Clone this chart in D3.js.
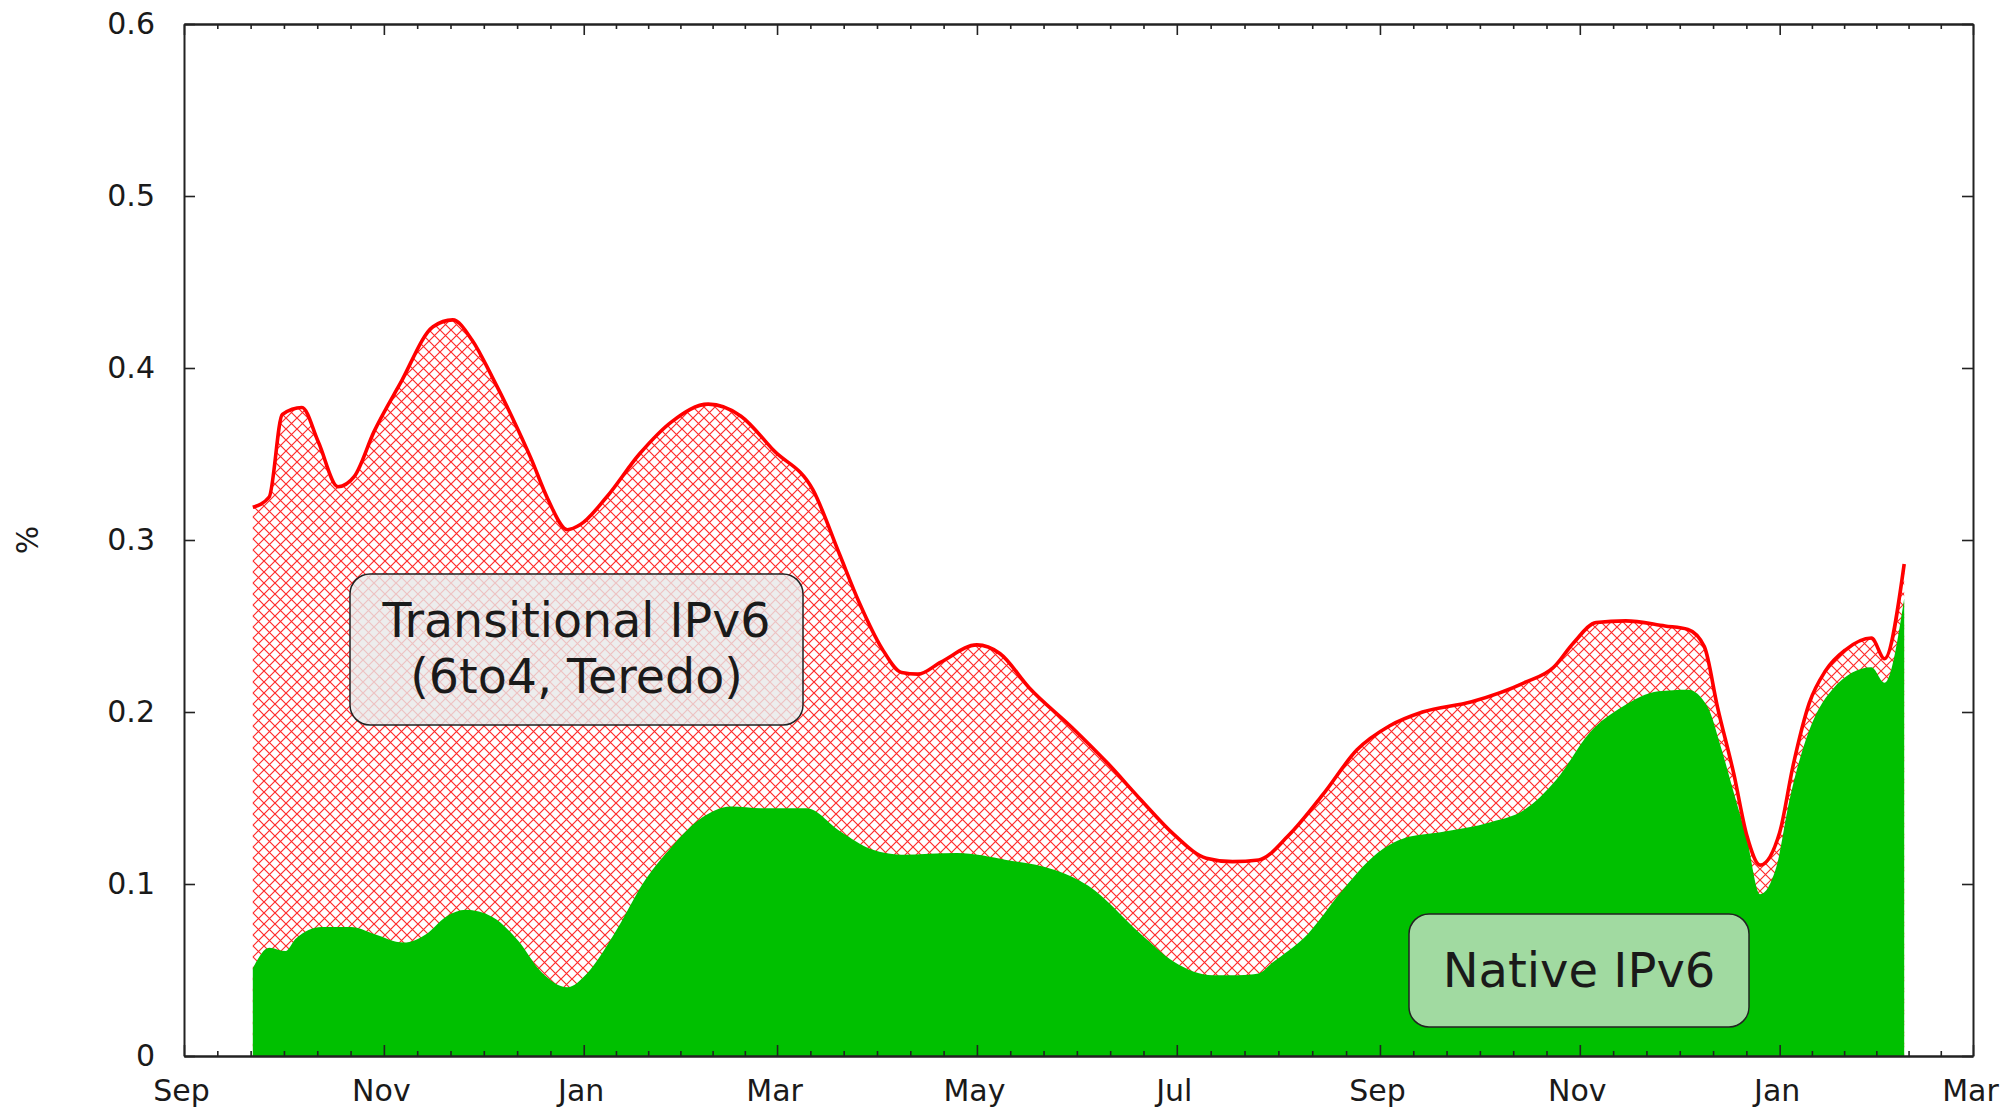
<!DOCTYPE html>
<html>
<head>
<meta charset="utf-8">
<script src="https://cdnjs.cloudflare.com/ajax/libs/d3/7.8.5/d3.min.js"></script>
<style>
    html, body { margin: 0; padding: 0; background: #ffffff; }
    svg { display: block; font-family: "DejaVu Sans", sans-serif; }
</style>
</head>
<body>
<div id="chart"></div>
<script>
// total IPv6 share (native + transitional), %
const totalDates = [
    "2008-09-22", "2008-09-27", "2008-10-01", "2008-10-07", "2008-10-12", "2008-10-18",
    "2008-10-23", "2008-10-29", "2008-11-06", "2008-11-16", "2008-11-22", "2008-11-28",
    "2008-12-04", "2008-12-10", "2008-12-16", "2008-12-21", "2008-12-27", "2008-12-31",
    "2009-01-08", "2009-01-18", "2009-01-28", "2009-02-08", "2009-02-18", "2009-02-28",
    "2009-03-12", "2009-03-20", "2009-03-26", "2009-04-02", "2009-04-08", "2009-04-13",
    "2009-04-20", "2009-05-01", "2009-05-08", "2009-05-17", "2009-05-30", "2009-06-10",
    "2009-06-20", "2009-06-30", "2009-07-10", "2009-07-18", "2009-07-26", "2009-08-04",
    "2009-08-15", "2009-08-25", "2009-09-04", "2009-09-14", "2009-09-29", "2009-10-15",
    "2009-10-24", "2009-10-30", "2009-11-06", "2009-11-15", "2009-11-27", "2009-12-04",
    "2009-12-09", "2009-12-13", "2009-12-18", "2009-12-22", "2009-12-26", "2010-01-01",
    "2010-01-05", "2010-01-10", "2010-01-15", "2010-01-21", "2010-01-29", "2010-02-02",
    "2010-02-08"
];
const totalValues = [
    0.319, 0.325, 0.373, 0.377, 0.357, 0.331,
    0.337, 0.363, 0.391, 0.424, 0.428, 0.416,
    0.395, 0.372, 0.347, 0.324, 0.306, 0.309,
    0.325, 0.350, 0.369, 0.379, 0.372, 0.352,
    0.329, 0.292, 0.264, 0.237, 0.223, 0.222,
    0.229, 0.239, 0.234, 0.214, 0.191, 0.170,
    0.149, 0.129, 0.115, 0.113, 0.114, 0.128,
    0.153, 0.178, 0.192, 0.200, 0.206, 0.217,
    0.226, 0.240, 0.252, 0.253, 0.250, 0.248,
    0.238, 0.203, 0.164, 0.128, 0.111, 0.130,
    0.168, 0.205, 0.224, 0.236, 0.243, 0.231,
    0.286
];

// native IPv6 share, %
const nativeDates = [
    "2008-09-22", "2008-09-27", "2008-10-02", "2008-10-05", "2008-10-13", "2008-10-22",
    "2008-10-29", "2008-11-07", "2008-11-14", "2008-11-20", "2008-11-26", "2008-12-04",
    "2008-12-12", "2008-12-19", "2008-12-27", "2009-01-02", "2009-01-10", "2009-01-20",
    "2009-01-28", "2009-02-05", "2009-02-15", "2009-02-24", "2009-03-10", "2009-03-20",
    "2009-03-30", "2009-04-08", "2009-04-25", "2009-05-10", "2009-05-25", "2009-06-04",
    "2009-06-20", "2009-06-30", "2009-07-12", "2009-07-20", "2009-07-26", "2009-07-30",
    "2009-08-10", "2009-08-20", "2009-08-30", "2009-09-09", "2009-09-19", "2009-10-05",
    "2009-10-15", "2009-10-25", "2009-11-04", "2009-11-14", "2009-11-25", "2009-12-04",
    "2009-12-10", "2009-12-14", "2009-12-18", "2009-12-22", "2009-12-26", "2009-12-31",
    "2010-01-04", "2010-01-09", "2010-01-17", "2010-01-29", "2010-02-02", "2010-02-08"
];
const nativeValues = [
    0.051, 0.063, 0.061, 0.068, 0.075, 0.075,
    0.071, 0.066, 0.071, 0.081, 0.085, 0.081,
    0.067, 0.049, 0.040, 0.048, 0.070, 0.103,
    0.122, 0.137, 0.145, 0.144, 0.144, 0.131,
    0.120, 0.117, 0.118, 0.114, 0.108, 0.099,
    0.071, 0.055, 0.047, 0.047, 0.048, 0.054,
    0.071, 0.095, 0.116, 0.127, 0.130, 0.136,
    0.143, 0.161, 0.188, 0.203, 0.212, 0.213,
    0.203, 0.180, 0.153, 0.126, 0.094, 0.110,
    0.149, 0.184, 0.213, 0.226, 0.217, 0.266
];

const xTickDates = [
    "2008-09-01", "2008-11-01", "2009-01-01", "2009-03-01", "2009-05-01",
    "2009-07-01", "2009-09-01", "2009-11-01", "2010-01-01", "2010-03-01"
];
const yTickValues = [0, 0.1, 0.2, 0.3, 0.4, 0.5, 0.6];
const yAxisLabel = "%";
const transitionalLabel = ["Transitional IPv6", "(6to4, Teredo)"];
const nativeLabel = ["Native IPv6"];

const SETTINGS = {
    width: 2014,
    height: 1110,
    margins: {top: 24, right: 41, bottom: 54, left: 184},
    fontSize: 30,
    textColor: "#1a1a1a",
    frameColor: "#222222",
    totalColor: "#ff0000",
    nativeColor: "#00c000",
    minorPerMajor: 6
};

const parseDate = d3.timeParse("%Y-%m-%d");

function makeSeries(dates, values){
    return dates.map((d, i) => ({date: parseDate(d), value: values[i]}));
}

const totalData = makeSeries(totalDates, totalValues);
const nativeData = makeSeries(nativeDates, nativeValues);
const majorTicks = xTickDates.map(parseDate);

//minor ticks split each pair of major ticks evenly
const minorTicks = [];
for(let i = 0; i < majorTicks.length - 1; i++){
    const t0 = +majorTicks[i], t1 = +majorTicks[i + 1];
    for(let k = 1; k < SETTINGS.minorPerMajor; k++){
        minorTicks.push(new Date(t0 + (t1 - t0) * k / SETTINGS.minorPerMajor));
    }
}

const m = SETTINGS.margins;
const innerW = SETTINGS.width - m.left - m.right;
const innerH = SETTINGS.height - m.top - m.bottom;

const svg = d3.select("#chart").append("svg")
    .attr("width", SETTINGS.width)
    .attr("height", SETTINGS.height);

const x = d3.scaleTime()
    .domain([majorTicks[0], majorTicks[majorTicks.length - 1]])
    .range([m.left, m.left + innerW]);

const y = d3.scaleLinear()
    .domain([0, 0.6])
    .range([m.top + innerH, m.top]);

// crosshatch for the transitional band
const defs = svg.append("defs");
defs.append("pattern")
    .attr("id", "hatch")
    .attr("patternUnits", "userSpaceOnUse")
    .attr("width", 11)
    .attr("height", 11)
  .append("path")
    .attr("d", "M-1,-1L12,12M12,-1L-1,12")
    .attr("stroke", "#ff2a2a")
    .attr("stroke-width", 1.2)
    .attr("fill", "none");

const area = d3.area()
    .curve(d3.curveMonotoneX)
    .x(d => x(d.date))
    .y0(y(0))
    .y1(d => y(d.value));

const line = d3.line()
    .curve(d3.curveMonotoneX)
    .x(d => x(d.date))
    .y(d => y(d.value));

svg.append("path")
    .datum(totalData)
    .attr("d", area)
    .attr("fill", "url(#hatch)");

svg.append("path")
    .datum(nativeData)
    .attr("d", area)
    .attr("fill", SETTINGS.nativeColor);

svg.append("path")
    .datum(totalData)
    .attr("d", line)
    .attr("fill", "none")
    .attr("stroke", SETTINGS.totalColor)
    .attr("stroke-width", 3.6)
    .attr("stroke-linejoin", "round");

/* label boxes */
function drawLabelBox(lines, box){
    const g = svg.append("g");
    g.append("rect")
        .attr("x", box.x)
        .attr("y", box.y)
        .attr("width", box.w)
        .attr("height", box.h)
        .attr("rx", 20)
        .attr("ry", 20)
        .attr("fill", box.fill)
        .attr("fill-opacity", box.opacity)
        .attr("stroke", "#222222")
        .attr("stroke-width", 1.5);
    g.selectAll("text")
        .data(lines)
        .join("text")
        .attr("x", box.x + box.w / 2)
        .attr("y", (d, i) => box.baseline + i * box.lineGap)
        .attr("text-anchor", "middle")
        .attr("font-size", box.fontSize)
        .attr("fill", SETTINGS.textColor)
        .text(d => d);
}

drawLabelBox(transitionalLabel, {x: 350, y: 574, w: 453, h: 151, fill: "#e9e9e9", opacity: 0.8,
    baseline: 637, lineGap: 56, fontSize: 47.5});
drawLabelBox(nativeLabel, {x: 1409, y: 914, w: 340, h: 113, fill: "#a1daa1", opacity: 1,
    baseline: 987, lineGap: 0, fontSize: 48});

/* axes */
function styleAxis(g){
    g.selectAll(".domain").attr("stroke", SETTINGS.frameColor).attr("stroke-width", 2);
    g.selectAll(".tick line").attr("stroke", SETTINGS.frameColor).attr("stroke-width", 1.6);
    g.selectAll(".tick text")
        .attr("fill", SETTINGS.textColor)
        .attr("font-size", SETTINGS.fontSize)
        .attr("font-family", "DejaVu Sans, sans-serif");
}

const monthFmt = d3.timeFormat("%b");
const yFmt = d => d === 0 ? "0" : d.toFixed(1);

// bottom
svg.append("g")
    .attr("transform", `translate(0,${m.top + innerH})`)
    .call(d3.axisBottom(x).tickValues(minorTicks).tickSizeInner(-5).tickSizeOuter(0).tickFormat(""))
    .call(styleAxis);
svg.append("g")
    .attr("transform", `translate(0,${m.top + innerH})`)
    .call(d3.axisBottom(x).tickValues(majorTicks).tickSizeInner(-11).tickSizeOuter(0)
        .tickPadding(24).tickFormat(monthFmt))
    .call(styleAxis)
    .selectAll(".tick text")
    .attr("dx", -3);

// top
svg.append("g")
    .attr("transform", `translate(0,${m.top})`)
    .call(d3.axisTop(x).tickValues(minorTicks).tickSizeInner(-5).tickSizeOuter(0).tickFormat(""))
    .call(styleAxis);
svg.append("g")
    .attr("transform", `translate(0,${m.top})`)
    .call(d3.axisTop(x).tickValues(majorTicks).tickSizeInner(-11).tickSizeOuter(0).tickFormat(""))
    .call(styleAxis);

// left
svg.append("g")
    .attr("transform", `translate(${m.left},0)`)
    .call(d3.axisLeft(y).tickValues(yTickValues).tickSizeInner(-11).tickSizeOuter(0)
        .tickPadding(29).tickFormat(yFmt))
    .call(styleAxis);

// right
svg.append("g")
    .attr("transform", `translate(${m.left + innerW},0)`)
    .call(d3.axisRight(y).tickValues(yTickValues).tickSizeInner(-11).tickSizeOuter(0).tickFormat(""))
    .call(styleAxis);

svg.append("text")
    .attr("transform", `translate(27,${m.top + innerH / 2}) rotate(-90)`)
    .attr("text-anchor", "middle")
    .attr("dominant-baseline", "central")
    .attr("font-size", SETTINGS.fontSize)
    .attr("fill", SETTINGS.textColor)
    .text(yAxisLabel);
</script>
</body>
</html>
